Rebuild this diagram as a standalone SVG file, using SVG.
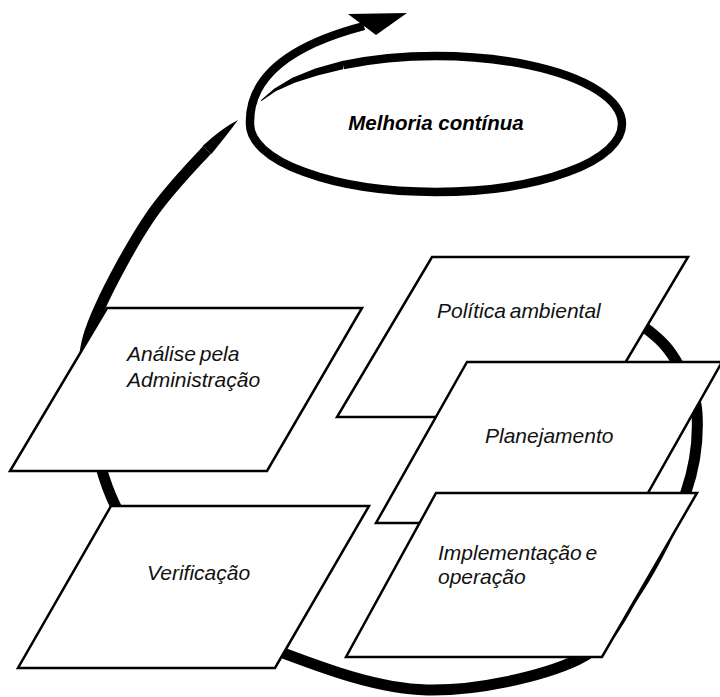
<svg xmlns="http://www.w3.org/2000/svg" width="720" height="697" viewBox="0 0 720 697">
<defs>
<style>
.box{fill:#fff;stroke:#000;stroke-width:2.5;stroke-linejoin:miter}
.cyc{fill:none;stroke:#000;stroke-linecap:butt;stroke-linejoin:round}
.tip{fill:#000;stroke:none}
.lbl{font-family:"Liberation Sans",Arial,sans-serif;font-style:italic;font-size:21px;fill:#111;word-spacing:-2px}
.title{font-family:"Liberation Sans",Arial,sans-serif;font-style:italic;font-weight:bold;font-size:20.5px;fill:#000}
</style>
</defs>
<rect width="720" height="697" fill="#fff"/>
<g id="connectors">
<path class="cyc" stroke-width="11" d="M580,288 C591.3,295 631.7,317.3 648,330 C664.3,342.7 669.8,350.2 678,364 C686.2,377.8 695.7,391.7 697,413 C698.3,434.3 696.2,462.2 686,492 C675.8,521.8 654.2,564 636,592 C617.8,620 611.8,643.7 577,660 C542.2,676.3 476,691.2 427,690 C378,688.8 325,668.8 283,653 C241,637.2 203,619.7 175,595 C147,570.3 129.2,534.2 115,505 C100.8,475.8 95.2,443.8 90,420 C84.8,396.2 82.3,380.8 84,362 C85.7,343.2 89,331.2 100,307 C111,282.8 132.2,243.2 150,217 C167.8,190.8 192.3,166 207,150"/>
<path class="tip" d="M202.6,146 Q222,128 238,120 Q227,135 211.4,154 Z"/>
<path class="tip" d="M260.85,100.35 L274.1,88.7 L292.4,77.8 L315.3,68.4 L343,60.85 L343,69.35 L317.5,75.4 L294.6,82.8 L275.7,91.3 L261.55,101.05 Z"/>
<path class="cyc" stroke-width="8.5" d="M343,65.1 A186,68 0 0 1 622,124 A186,68 0 0 1 250,124 C249,88 272,50 364,26"/>
<polygon class="tip" points="348,14 407,13 376,35"/>
</g>
<g id="melhoria">
<text class="title" x="436" y="130" text-anchor="middle">Melhoria contínua</text>
</g>
<g id="analise">
<polygon class="box" points="107,308 362,308 267,471 10,471"/>
<text class="lbl" x="127" y="361">Análise pela</text>
<text class="lbl" x="127" y="387">Administração</text>
</g>
<g id="verificacao">
<polygon class="box" points="111,506 369,506 275,668 18,668"/>
<text class="lbl" x="147" y="580">Verificação</text>
</g>
<g id="politica">
<polygon class="box" points="432,257 688,257 593,417 337,417"/>
<text class="lbl" x="437" y="318">Política ambiental</text>
</g>
<g id="planejamento">
<polygon class="box" points="467,362 722,362 631,523 376,523"/>
<text class="lbl" x="485" y="443">Planejamento</text>
</g>
<g id="implementacao">
<polygon class="box" points="436,493 697,493 602,657 346,657"/>
<text class="lbl" x="438" y="560">Implementação e</text>
<text class="lbl" x="438" y="584">operação</text>
</g>
</svg>
